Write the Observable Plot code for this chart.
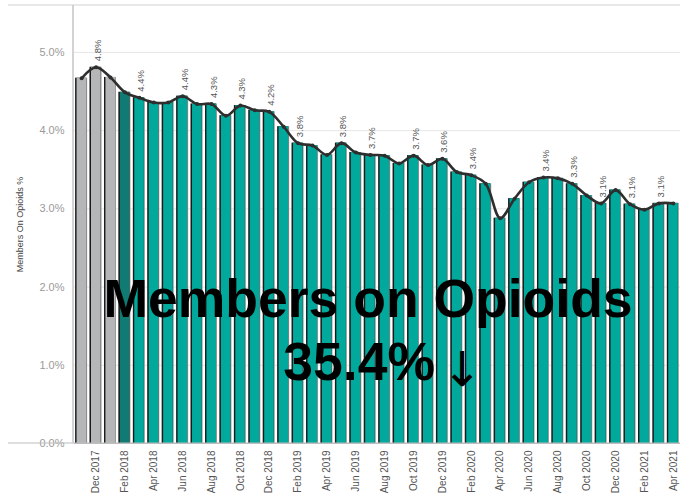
<!DOCTYPE html>
<html>
<head>
<meta charset="utf-8">
<script src="https://cdn.jsdelivr.net/npm/d3@7"></script>
<script src="https://cdn.jsdelivr.net/npm/@observablehq/plot@0.6"></script>
<style>
  html, body { margin: 0; padding: 0; background: #fff; overflow: hidden; }
  #chart { position: relative; width: 680px; height: 503px; }
</style>
</head>
<body>
<div id="chart"></div>
<script>
const months = [
  "Nov 2017","Dec 2017","Jan 2018","Feb 2018","Mar 2018","Apr 2018","May 2018","Jun 2018",
  "Jul 2018","Aug 2018","Sep 2018","Oct 2018","Nov 2018","Dec 2018","Jan 2019","Feb 2019",
  "Mar 2019","Apr 2019","May 2019","Jun 2019","Jul 2019","Aug 2019","Sep 2019","Oct 2019",
  "Nov 2019","Dec 2019","Jan 2020","Feb 2020","Mar 2020","Apr 2020","May 2020","Jun 2020",
  "Jul 2020","Aug 2020","Sep 2020","Oct 2020","Nov 2020","Dec 2020","Jan 2021","Feb 2021",
  "Mar 2021","Apr 2021"
];
const values = [
  4.67, 4.81, 4.68, 4.49, 4.42, 4.36, 4.36, 4.44,
  4.34, 4.34, 4.19, 4.32, 4.26, 4.24, 4.05, 3.84,
  3.81, 3.69, 3.84, 3.72, 3.69, 3.68, 3.58, 3.68,
  3.56, 3.64, 3.47, 3.43, 3.32, 2.88, 3.13, 3.34,
  3.40, 3.39, 3.32, 3.17, 3.07, 3.24, 3.06, 2.99,
  3.07, 3.07
];
const baselineMonths = ["Nov 2017","Dec 2017","Jan 2018"];
const startMonth = "Feb 2018";
const labelMonths = [
  "Dec 2017","Mar 2018","Jun 2018","Aug 2018","Oct 2018","Dec 2018","Feb 2019","May 2019",
  "Jul 2019","Oct 2019","Dec 2019","Feb 2020","Jul 2020","Sep 2020","Nov 2020","Jan 2021","Mar 2021"
];
const tickMonths = months.filter((m, i) => i % 2 === 1);
const yTicks = [0, 1, 2, 3, 4, 5];
const titleLine1 = "Members on Opioids";
const titleLine2 = "35.4%";
const titleArrow = "↓";

const data = months.map((m, i) => ({month: m, value: values[i]}));
const labelData = data.filter(d => labelMonths.includes(d.month));

const gray = "#b4b6b8", dark = "#0f7b73", teal = "#00a99b";
const fillOf = d => baselineMonths.includes(d.month) ? gray : d.month === startMonth ? dark : teal;

const plot = Plot.plot({
  width: 680,
  height: 503,
  marginLeft: 74,
  marginRight: 0,
  marginTop: 5,
  marginBottom: 60,
  style: {fontFamily: "Liberation Sans, Arial, sans-serif", background: "#fff"},
  x: {type: "band", domain: months, paddingInner: 0.17, paddingOuter: 0.08, round: false, label: null},
  y: {domain: [0, 5.6], label: null},
  marks: [
    Plot.gridY(yTicks, {stroke: "#e6e6e6", strokeOpacity: 1}),
    Plot.barY(data, {x: "month", y: "value", fill: "#9a9a9a"}),
    Plot.barY(data, {x: "month", y: "value", fill: "#1a1a1a", insetRight: 1}),
    Plot.barY(data, {x: "month", y: "value", fill: fillOf, insetLeft: 1.4, insetRight: 1}),
    Plot.ruleY([0], {stroke: "#bdbdbd", strokeWidth: 1.2}),
    Plot.line(data, {x: "month", y: "value", stroke: "#2e2e2e", strokeWidth: 2.6, curve: "catmull-rom"}),
    Plot.dot(data, {x: "month", y: "value", fill: "#2e2e2e", r: 2}),
    Plot.text(labelData, {
      x: "month", y: "value", text: d => d.value.toFixed(1) + "%",
      rotate: -90, textAnchor: "start", dy: -6, dx: 2,
      fontSize: 9.5, fill: "#555"
    }),
    Plot.axisY({
      ticks: yTicks, tickSize: 0, tickPadding: 10,
      tickFormat: d => d.toFixed(1) + "%",
      fontSize: 11, color: "#9a9a9a",
      label: "Members On Opioids %", labelAnchor: "center", labelArrow: "none", labelOffset: 58
    }),
    Plot.axisX({
      ticks: tickMonths, tickSize: 0, tickPadding: 7, tickRotate: -90,
      fontSize: 10, color: "#555", label: null
    })
  ]
});

const svg = d3.select(plot);
svg.selectAll("[aria-label='y-axis label'] text").attr("fill", "#444").attr("font-size", 9);

const ys = plot.scale("y");
const y0 = ys.apply(0), yTop = 5;
const xLeft = 73;
svg.append("line").attr("x1", 8).attr("x2", 680).attr("y1", yTop).attr("y2", yTop)
  .attr("stroke", "#e0e0e0").attr("stroke-width", 1.5);
svg.append("line").attr("x1", 8).attr("x2", 680).attr("y1", y0).attr("y2", y0)
  .attr("stroke", "#bdbdbd").attr("stroke-width", 1.2);
svg.append("line").attr("x1", xLeft).attr("x2", xLeft).attr("y1", yTop).attr("y2", y0)
  .attr("stroke", "#c4c4c4").attr("stroke-width", 1.5);

const g = svg.append("g").attr("font-family", "Liberation Sans, Arial, sans-serif").attr("fill", "#000");
g.append("text").attr("x", 368).attr("y", 317).attr("text-anchor", "middle")
  .attr("font-size", 53.5).attr("font-weight", "bold").text(titleLine1);
g.append("text").attr("x", 435).attr("y", 380).attr("text-anchor", "end")
  .attr("font-size", 53.5).attr("font-weight", "bold").text(titleLine2);
g.append("text").attr("x", 462).attr("y", 386).attr("text-anchor", "middle")
  .attr("font-family", "DejaVu Sans, sans-serif")
  .attr("font-size", 48).attr("font-weight", "normal").text(titleArrow);

document.getElementById("chart").appendChild(plot);
</script>
</body>
</html>
